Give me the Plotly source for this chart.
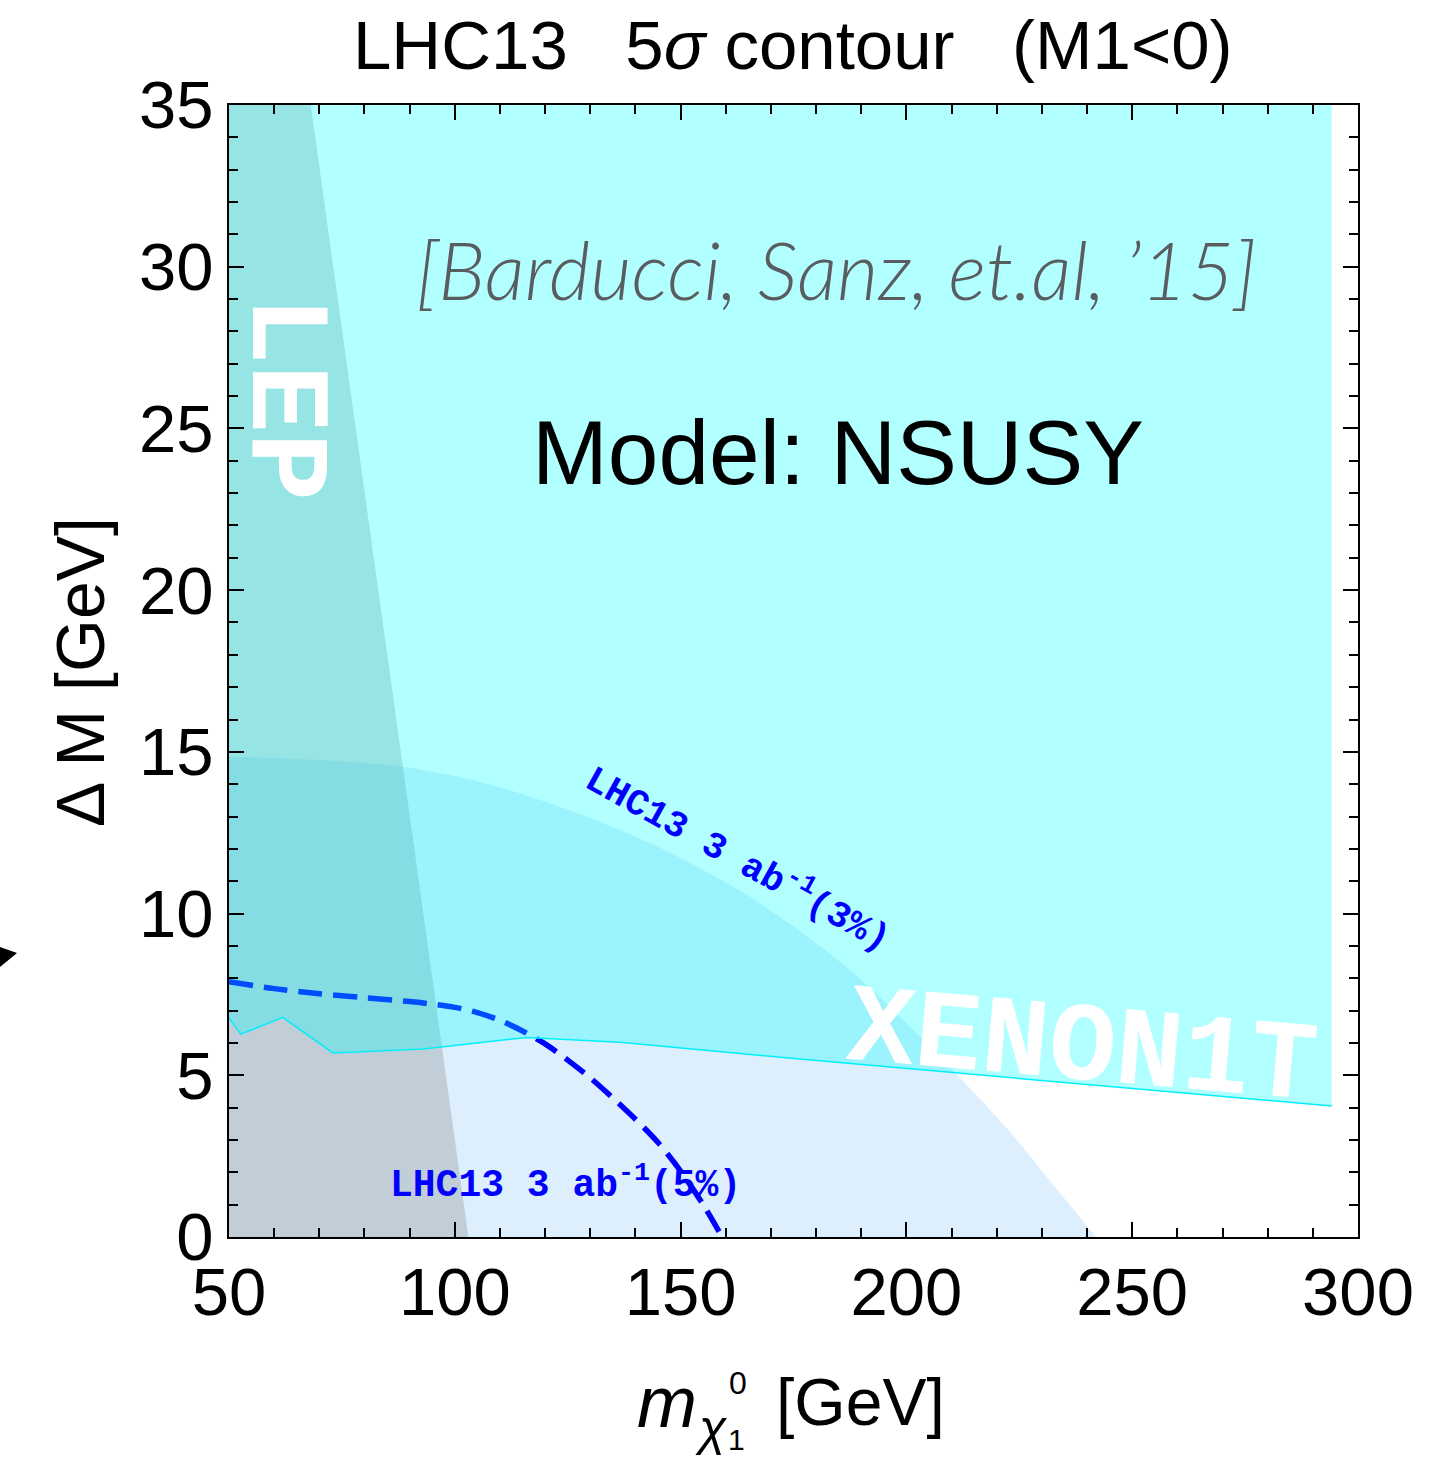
import plotly.graph_objects as go

# ---------------- data ----------------
# 3% contour (light-blue filled region): upper edge
ell_m  = [50, 70, 88, 100, 110, 121, 130, 143, 155, 165, 176, 188, 199, 211, 222, 232, 242]
ell_dm = [14.85, 14.75, 14.55, 14.25, 13.9, 13.41, 12.95, 12.2, 11.35, 10.55, 9.5, 8.2, 6.75, 5.05, 3.4, 1.7, 0.0]

# 5% contour (dashed line)
dash_m  = [50, 60, 70, 80, 90, 95, 100, 105, 110, 115, 120, 125, 130, 135, 140, 145, 150, 155, 159.2]
dash_dm = [7.89, 7.68, 7.52, 7.40, 7.28, 7.20, 7.10, 6.94, 6.70, 6.37, 5.97, 5.47, 4.92, 4.30, 3.64, 2.92, 2.04, 1.0, 0.0]

# XENON1T exclusion boundary
xe_m  = [50, 52.6, 61.9, 73.0, 93.0, 115.9, 136.6, 176.4, 294.2]
xe_dm = [6.77, 6.27, 6.79, 5.69, 5.81, 6.17, 6.02, 5.50, 4.05]
xe_top = 35

# LEP exclusion region (left wedge)
lep_m  = [50, 103.0, 68.1, 50]
lep_dm = [0, 0, 35, 35]

x_range = [50, 300]
y_range = [0, 35]
x_ticks = [50, 100, 150, 200, 250, 300]
y_ticks = [0, 5, 10, 15, 20, 25, 30, 35]

# ---------------- layout helpers (pixel -> paper) ----------------
PX0, PX1, PY0, PY1 = 229, 1358, 105, 1237
def px(x):
    return (x - PX0) / (PX1 - PX0)
def py(y):
    return (PY1 - y) / (PY1 - PY0)

SANS = "Liberation Sans, Arial, sans-serif"
MONO = "Liberation Mono, Courier New, monospace"

fig = go.Figure()

# light-blue 3% region
fig.add_trace(go.Scatter(
    x=ell_m, y=ell_dm,
    fill="tozeroy", fillcolor="rgb(221,238,253)", mode="lines",
    line=dict(width=0, shape="spline", smoothing=0.8), hoverinfo="skip", showlegend=False))

# LEP region (translucent gray)
fig.add_trace(go.Scatter(
    x=lep_m, y=lep_dm, fill="toself", fillcolor="rgba(128,128,128,0.3)",
    mode="lines", line=dict(width=0), hoverinfo="skip", showlegend=False))

# dashed 5% contour
fig.add_trace(go.Scatter(
    x=dash_m, y=dash_dm, mode="lines",
    line=dict(color="rgb(0,0,255)", width=5.5, dash="24px,11px", shape="spline", smoothing=0.8),
    hoverinfo="skip", showlegend=False))

# XENON1T region (translucent cyan)
fig.add_trace(go.Scatter(
    x=xe_m + [xe_m[-1], xe_m[0]], y=xe_dm + [xe_top, xe_top],
    fill="toself", fillcolor="rgba(0,255,255,0.3)", mode="lines",
    line=dict(width=0), hoverinfo="skip", showlegend=False))
fig.add_trace(go.Scatter(
    x=xe_m, y=xe_dm, mode="lines", line=dict(color="rgb(0,240,250)", width=1.5),
    hoverinfo="skip", showlegend=False))

ann = []
def add(text, x, y, size, color="black", family=SANS, angle=0, **kw):
    d = dict(text=text, x=px(x), y=py(y), xref="paper", yref="paper",
             xanchor="center", yanchor="middle", showarrow=False, textangle=angle,
             font=dict(size=size, color=color, family=family))
    d["font"].update(kw.pop("font_extra", {}))
    d.update(kw)
    ann.append(d)

NB = "\u00a0"
add("LHC13" + NB*3 + "5<i>σ</i> contour" + NB*3 + "(M1&lt;0)", 793, 45, 69)
add("[Barducci, Sanz, et.al, ’15]", 836, 269, 80, color="#5a5d60",
    family="Lato, Open Sans, sans-serif", font_extra=dict(style="italic", weight=300))
add("Model: NSUSY", 838, 453, 91)
add("<b>LEP</b>", 283, 398, 114, color="white", family=MONO, angle=90)
add("<b>XENON1T</b>", 1082, 1049, 112, color="white", family=MONO, angle=5)
add("<b>LHC13 3 ab<sup>-1</sup>(3%)</b>", 739, 857, 37, color="blue", family=MONO, angle=29)
add("<b>LHC13 3 ab<sup>-1</sup>(5%)</b>", 565, 1182, 38, color="blue", family=MONO)

# axis titles
add("Δ M [GeV]", 80, 672, 68, angle=-90)
add("<i>m</i>", 667, 1402, 72)
add("<i>χ</i>", 711, 1428, 50)
add("0", 738, 1383, 32)
add("1", 736, 1439, 30)
add("[GeV]", 860, 1402, 66)

shapes = [dict(type="path", xref="paper", yref="paper",
               path=f"M {px(0)} {py(947)} L {px(17)} {py(953)} L {px(0)} {py(967)} Z",
               fillcolor="black", line=dict(width=0))]

axis_common = dict(showline=True, linecolor="black", linewidth=2, mirror="allticks",
                   ticks="inside", ticklen=15, tickwidth=2, tickcolor="black",
                   showgrid=False, zeroline=False,
                   tickfont=dict(size=67, family=SANS, color="black"))

fig.update_layout(
    width=1450, height=1458, autosize=False,
    margin=dict(l=PX0, r=1450 - PX1, t=PY0, b=1458 - PY1, pad=0),
    paper_bgcolor="white", plot_bgcolor="white",
    xaxis=dict(range=x_range, tickvals=x_ticks, ticklabelstandoff=-4,
               minor=dict(ticks="inside", ticklen=9, tickwidth=1.5, tickcolor="black", dtick=10, tick0=50),
               **axis_common),
    yaxis=dict(range=y_range, tickvals=y_ticks, ticklabelstandoff=0,
               minor=dict(ticks="inside", ticklen=9, tickwidth=1.5, tickcolor="black", dtick=1, tick0=0),
               **axis_common),
    annotations=ann, shapes=shapes, showlegend=False)

fig.write_html("out.html")
